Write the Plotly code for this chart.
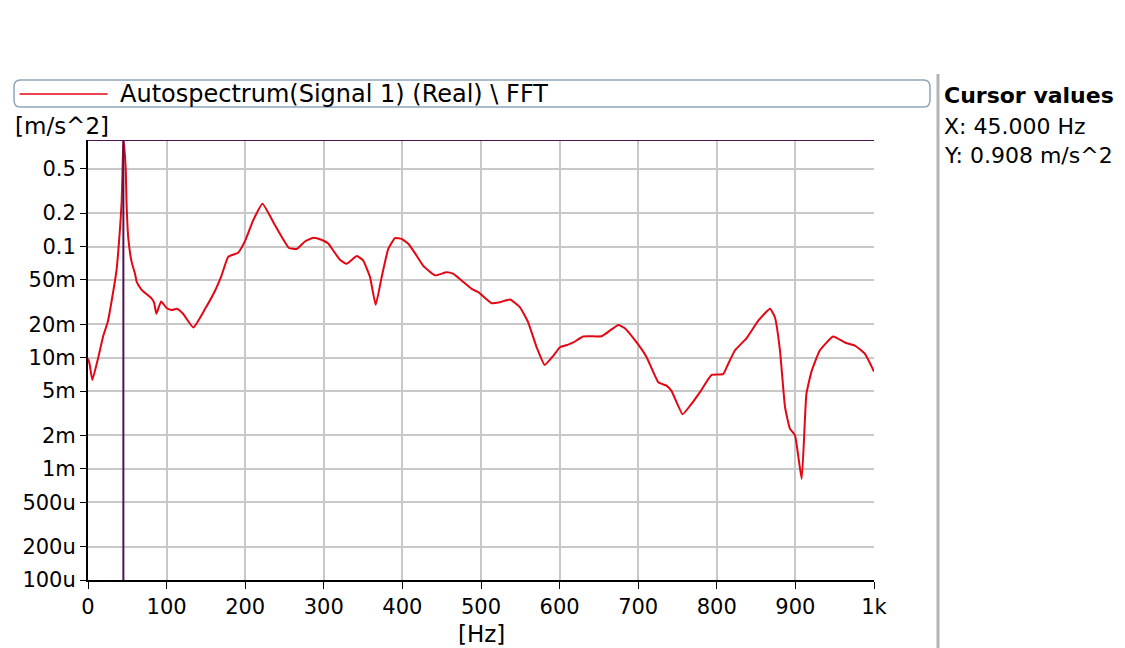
import plotly.graph_objects as go

# Autospectrum readout (Hz, m/s^2)
freq = [0, 2, 5.5, 13, 19.5, 25, 32, 36.5, 40.7, 42.8, 44, 45, 46, 48, 49, 51.3,
        55.6, 59.8, 62, 68, 81, 84, 87, 93, 100, 106.5, 113, 121, 134, 149,
        161.6, 170, 178.5, 191, 200, 210, 222, 238, 255.7, 265.5, 276, 286.7,
        297, 306, 312, 320.6, 329, 342, 350, 358.8, 366, 373.6, 382, 390.6,
        399, 407.5, 418, 426.6, 441.5, 456, 464.8, 477.5, 488, 496.6, 513.5,
        524, 537, 549.6, 560, 570.8, 581, 592, 600.5, 611, 617.4, 630, 653.5,
        664, 674.7, 683, 698, 710.7, 725.6, 736, 742.5, 756.5, 766, 778.6,
        793.4, 808, 812.5, 823, 838, 852.8, 867.7, 874, 880.4, 886.8, 893,
        899.5, 908, 914, 920.7, 931, 948, 963, 976, 988.5, 1000]
amp = [0.0098, 0.0088, 0.0063, 0.0100, 0.0158, 0.0208, 0.039, 0.063, 0.145, 0.25,
       0.50, 0.908, 0.80, 0.50, 0.25, 0.118,
       0.072, 0.057, 0.048, 0.041, 0.034, 0.0315, 0.0248, 0.032, 0.028, 0.0269,
       0.0275, 0.0248, 0.0187, 0.0275,
       0.040, 0.055, 0.081, 0.088, 0.113, 0.171, 0.243, 0.155, 0.097, 0.095,
       0.111, 0.120,
       0.115, 0.106, 0.092, 0.076, 0.070, 0.082, 0.075, 0.053, 0.0299, 0.053,
       0.095, 0.119,
       0.117, 0.106, 0.083, 0.067, 0.055, 0.0586, 0.0567, 0.048, 0.0416, 0.0388,
       0.0309,
       0.0315, 0.0333, 0.0284, 0.0208, 0.0124, 0.0086, 0.0104, 0.0124, 0.0131,
       0.0137, 0.0155, 0.0156,
       0.0175, 0.0197, 0.0184, 0.0137, 0.0101, 0.0060, 0.0056, 0.0050, 0.0031,
       0.0037, 0.0049,
       0.0070, 0.0071, 0.0082, 0.0116, 0.0150, 0.0215, 0.0275, 0.023, 0.0116,
       0.0036, 0.0023,
       0.0020, 0.00081, 0.0047, 0.0076, 0.0116, 0.0155, 0.0137, 0.0128, 0.0108,
       0.0075]

cursor_x = 45.0
cursor_y = 0.908

y_tickvals = [1e-4, 2e-4, 5e-4, 1e-3, 2e-3, 5e-3, 1e-2, 2e-2, 5e-2, 0.1, 0.2, 0.5]
y_ticktext = ["100u", "200u", "500u", "1m", "2m", "5m", "10m", "20m", "50m", "0.1", "0.2", "0.5"]
x_tickvals = [0, 100, 200, 300, 400, 500, 600, 700, 800, 900, 1000]
x_ticktext = ["0", "100", "200", "300", "400", "500", "600", "700", "800", "900", "1k"]

trace_name = "Autospectrum(Signal 1) (Real) \\ FFT"
red = "#e30613"
cursor_col = "#4e1450"
font = "DejaVu Sans"

fig = go.Figure()
fig.add_trace(go.Scatter(x=freq, y=amp, mode="lines", name=trace_name,
                         line=dict(color=red, width=2, shape="spline", smoothing=0.4),
                         showlegend=False))

# cursor lines
fig.add_shape(type="line", xref="x", yref="paper", x0=cursor_x, x1=cursor_x, y0=0, y1=1,
              line=dict(color=cursor_col, width=2))
fig.add_shape(type="line", xref="paper", yref="y", x0=0, x1=1, y0=cursor_y, y1=cursor_y,
              line=dict(color=cursor_col, width=2))

# legend box (rounded) drawn by hand, spanning the full width like the original
x0, x1, y0, y1 = -0.0941, 1.0712, 1.075, 1.1364
rx, ry = 0.008, 0.016
path = ("M{a},{b} L{c},{b} Q{x1},{b} {x1},{d} L{x1},{e} Q{x1},{y1} {c},{y1} "
        "L{a},{y1} Q{x0},{y1} {x0},{e} L{x0},{d} Q{x0},{b} {a},{b} Z").format(
    a=x0 + rx, b=y0, c=x1 - rx, d=y0 + ry, e=y1 - ry, x0=x0, x1=x1, y1=y1)
fig.add_shape(type="path", xref="paper", yref="paper", path=path,
              line=dict(color="#8ea5ba", width=1.5), fillcolor="rgba(0,0,0,0)")
fig.add_shape(type="line", xref="paper", yref="paper", x0=-0.087, x1=0.025,
              y0=1.1045, y1=1.1045, line=dict(color=red, width=1.5))
fig.add_annotation(text=trace_name, xref="paper", yref="paper", x=0.038, y=1.1045,
                   xanchor="left", yanchor="middle", showarrow=False,
                   font=dict(family=font, size=24, color="black"))

# cursor values panel
fig.add_shape(type="line", xref="paper", yref="paper", x0=1.0814, x1=1.0814,
              y0=-0.16, y1=1.15, line=dict(color="#b4b4b4", width=3))
fig.add_annotation(text="<b>Cursor values</b>", xref="paper", yref="paper", x=1.087,
                   y=(580 - 96) / 440, xanchor="left", yanchor="middle", showarrow=False,
                   font=dict(family=font, size=22, color="black"))
fig.add_annotation(text="X: %.3f Hz" % cursor_x, xref="paper", yref="paper", x=1.087,
                   y=(580 - 126) / 440, xanchor="left", yanchor="middle", showarrow=False,
                   font=dict(family=font, size=22, color="black"))
fig.add_annotation(text="Y: %.3f m/s^2" % cursor_y, xref="paper", yref="paper", x=1.087,
                   y=(580 - 155) / 440, xanchor="left", yanchor="middle", showarrow=False,
                   font=dict(family=font, size=22, color="black"))

# unit labels
fig.add_annotation(text="[m/s^2]", xref="paper", yref="paper", x=-0.095,
                   y=(580 - 126) / 440, xanchor="left", yanchor="middle", showarrow=False,
                   font=dict(family=font, size=23, color="black"))
fig.add_annotation(text="[Hz]", xref="paper", yref="paper", x=0.5,
                   y=(580 - 634) / 440, xanchor="center", yanchor="middle", showarrow=False,
                   font=dict(family=font, size=23, color="black"))

# page body adds an 8px offset, so margins are shifted to keep the plot box in place
fig.update_layout(
    width=1125, height=648,
    margin=dict(l=80, r=259, t=132, b=76),
    paper_bgcolor="white", plot_bgcolor="white",
    font=dict(family=font, size=21, color="black"),
    xaxis=dict(range=[0, 1000], tickvals=x_tickvals, ticktext=x_ticktext,
               showgrid=True, gridcolor="#c8c8c8", gridwidth=2,
               showline=True, linecolor="black", linewidth=2,
               ticks="outside", ticklen=7, tickcolor="black", zeroline=False),
    yaxis=dict(type="log", range=[-4, -0.0419], tickvals=y_tickvals, ticktext=y_ticktext,
               showgrid=True, gridcolor="#c8c8c8", gridwidth=2,
               showline=True, linecolor="black", linewidth=2,
               ticks="outside", ticklen=6, tickcolor="black", zeroline=False),
)

fig.write_html("out.html")
